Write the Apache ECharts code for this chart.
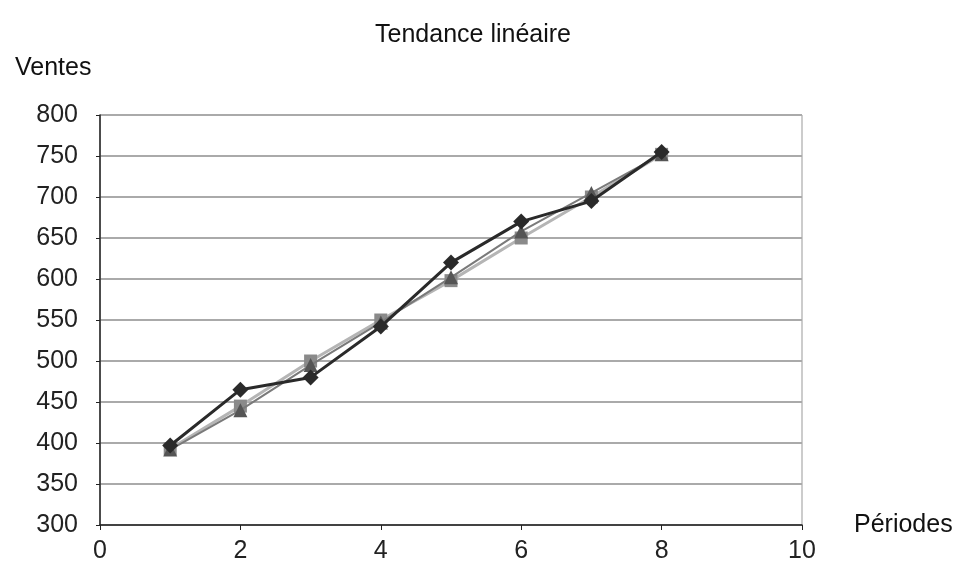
<!DOCTYPE html>
<html>
<head>
<meta charset="utf-8">
<script src="https://cdn.jsdelivr.net/npm/echarts@6/dist/echarts.min.js"></script>
<style>
  html, body { margin: 0; padding: 0; background: #fff; }
  #chart { width: 964px; height: 564px; }
</style>
</head>
<body>
<div id="chart"></div>
<script>
// Periods and sales values
const periods = [1, 2, 3, 4, 5, 6, 7, 8];
const ventes = [397, 465, 480, 542, 620, 670, 695, 755];
const tendanceA = [392, 440, 495, 547, 602, 658, 705, 752];
const tendanceB = [393, 445, 500, 550, 598, 650, 700, 752];

const FONT = '"Liberation Sans", "DejaVu Sans", sans-serif';

function pairs(vals) {
  return periods.map((p, i) => [p, vals[i]]);
}

const chart = echarts.init(document.getElementById('chart'));
chart.setOption({
  backgroundColor: '#ffffff',
  animation: false,
  title: {
    text: 'Tendance linéaire',
    left: 468,
    top: 18,
    textAlign: 'center',
    textStyle: { fontFamily: FONT, fontSize: 25, fontWeight: 'normal', color: '#111' }
  },
  grid: { left: 100, right: 162, top: 115, bottom: 39, show: true, borderColor: '#999', borderWidth: 1 },
  xAxis: {
    type: 'value',
    min: 0, max: 10, interval: 2,
    name: 'Périodes',
    nameLocation: 'end',
    nameGap: 52,
    nameTextStyle: { fontFamily: FONT, fontSize: 25, color: '#111', verticalAlign: 'middle' },
    axisLine: { show: true, lineStyle: { color: '#222', width: 1.5 } },
    axisTick: { show: true, length: 5, lineStyle: { color: '#222' } },
    axisLabel: { fontFamily: FONT, fontSize: 25, color: '#222', margin: 14 },
    splitLine: { show: false }
  },
  yAxis: {
    type: 'value',
    min: 300, max: 800, interval: 50,
    name: 'Ventes',
    nameLocation: 'end',
    nameGap: 34,
    nameTextStyle: { fontFamily: FONT, fontSize: 25, color: '#111', align: 'left', padding: [0, 0, 0, -85] },
    axisLine: { show: true, lineStyle: { color: '#222', width: 1.5 } },
    axisTick: { show: true, length: 4, lineStyle: { color: '#222' } },
    axisLabel: { fontFamily: FONT, fontSize: 25, color: '#222', margin: 22 },
    splitLine: { show: true, lineStyle: { color: '#aaaaaa', width: 2 } }
  },
  series: [
    {
      type: 'line',
      data: pairs(tendanceB),
      symbol: 'rect', symbolSize: 13,
      lineStyle: { color: '#b5b5b5', width: 3 },
      itemStyle: { color: '#8a8a8a' },
      z: 2
    },
    {
      type: 'line',
      data: pairs(tendanceA),
      symbol: 'triangle', symbolSize: 14,
      lineStyle: { color: '#7a7a7a', width: 2 },
      itemStyle: { color: '#555' },
      z: 3
    },
    {
      type: 'line',
      data: pairs(ventes),
      symbol: 'diamond', symbolSize: 16,
      lineStyle: { color: '#2a2a2a', width: 3 },
      itemStyle: { color: '#2a2a2a' },
      z: 4
    }
  ]
});
</script>
</body>
</html>
